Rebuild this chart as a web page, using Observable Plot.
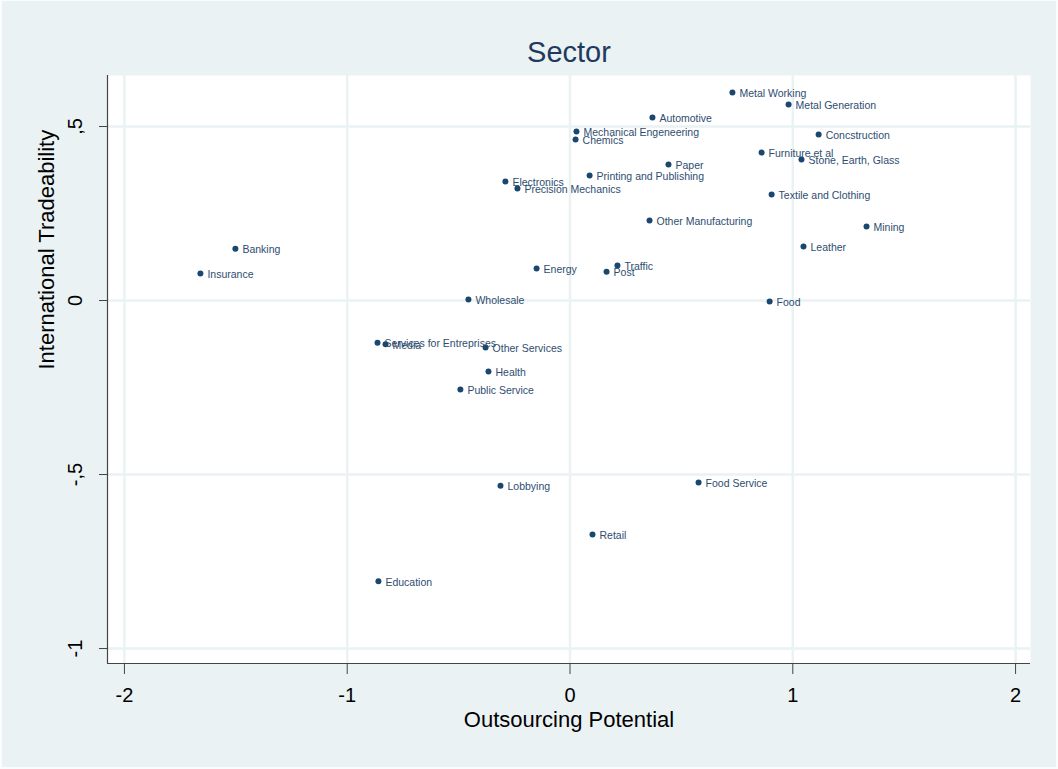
<!DOCTYPE html>
<html>
<head>
<meta charset="utf-8">
<script src="https://cdn.jsdelivr.net/npm/d3@7"></script>
<script src="https://cdn.jsdelivr.net/npm/@observablehq/plot@0.6"></script>
<style>
  html, body { margin: 0; padding: 0; background: #eaf2f3; }
  #chart { position: relative; width: 1058px; height: 769px; }
  #chart svg { display: block; }
  #border { position: absolute; left: 0; top: 0; right: 0; bottom: 0;
    border-style: solid; border-color: #fbfdfd; border-width: 1px 2px 2px 2px;
    pointer-events: none; }
</style>
</head>
<body>
<div id="chart"><div id="border"></div></div>
<script>
const sectors = [
  "Metal Working", "Metal Generation", "Automotive", "Concstruction",
  "Mechanical Engeneering", "Chemics", "Furniture et al", "Stone, Earth, Glass",
  "Paper", "Printing and Publishing", "Electronics", "Precision Mechanics",
  "Textile and Clothing", "Other Manufacturing", "Mining", "Banking",
  "Leather", "Insurance", "Energy", "Traffic", "Post", "Wholesale", "Food",
  "Services for Entreprises", "Media", "Other Services", "Health",
  "Public Service", "Lobbying", "Food Service", "Retail", "Education"
];
const outsourcing = [
  0.729, 0.981, 0.370, 1.116,
  0.029, 0.025, 0.860, 1.039,
  0.442, 0.088, -0.290, -0.236,
  0.905, 0.357, 1.331, -1.502,
  1.048, -1.659, -0.150, 0.213, 0.164, -0.456, 0.896,
  -0.864, -0.828, -0.379, -0.366,
  -0.492, -0.312, 0.577, 0.101, -0.860
];
const tradeability = [
  0.598, 0.563, 0.526, 0.477,
  0.486, 0.463, 0.425, 0.405,
  0.391, 0.359, 0.342, 0.322,
  0.305, 0.230, 0.213, 0.149,
  0.155, 0.078, 0.092, 0.101, 0.083, 0.003, -0.003,
  -0.121, -0.126, -0.135, -0.204,
  -0.256, -0.532, -0.523, -0.672, -0.807
];
const xTicks = [-2, -1, 0, 1, 2];
const yTicks = [-1, -0.5, 0, 0.5];
const yTickLabels = ["-1", "-,5", "0", ",5"];
const xDomain = [-2.076, 2.067];
const yDomain = [-1.043, 0.6466];

const data = sectors.map((s, i) => ({sector: s, x: outsourcing[i], y: tradeability[i]}));
const yTickData = yTicks.map((v, i) => ({v, label: yTickLabels[i]}));

const navy = "#1a476f";
const grid = "#eaf2f3";
const font = "'Liberation Sans', Arial, sans-serif";

const chart = Plot.plot({
  width: 1058,
  height: 769,
  marginLeft: 107,
  marginRight: 28,
  marginTop: 75,
  marginBottom: 106,
  style: {background: "transparent", fontFamily: font, color: "#000"},
  x: {domain: xDomain, ticks: xTicks},
  y: {domain: yDomain, ticks: yTicks},
  marks: [
    Plot.frame({fill: "white", stroke: "none"}),
    Plot.gridX(xTicks, {stroke: grid, strokeOpacity: 1, strokeWidth: 2.5}),
    Plot.gridY(yTicks, {stroke: grid, strokeOpacity: 1, strokeWidth: 2.5}),
    Plot.ruleX([xDomain[0]], {stroke: "#444", strokeWidth: 1.2}),
    Plot.ruleY([yDomain[0]], {stroke: "#444", strokeWidth: 1.2}),
    Plot.axisX(xTicks, {
      tickSize: 11, tickPadding: 13, fontSize: 20, stroke: "#444",
      tickFormat: d => String(d),
      label: null
    }),
    Plot.axisY(yTicks, {
      tickSize: 8, stroke: "#444", tickFormat: null, text: null, label: null
    }),
    Plot.text(yTickData, {
      x: () => xDomain[0], y: "v", text: "label", rotate: -90,
      dx: -32, fontSize: 20, fill: "#000", textAnchor: "middle"
    }),
    Plot.text(["Outsourcing Potential"], {
      frameAnchor: "bottom", dy: 63, fontSize: 22, fill: "#000"
    }),
    Plot.text(["International Tradeability"], {
      frameAnchor: "left", dx: -61, rotate: -90, fontSize: 22, fill: "#000"
    }),
    Plot.text(["Sector"], {
      frameAnchor: "top", dy: -34, fontSize: 29, fill: "#1e3a5f"
    }),
    Plot.dot(data, {x: "x", y: "y", r: 3, fill: navy, stroke: "none"}),
    Plot.text(data, {
      x: "x", y: "y", text: "sector", textAnchor: "start", dx: 7, dy: 1,
      fontSize: 10.5, fill: "#2e4d70"
    })
  ]
});
document.getElementById("chart").appendChild(chart);
</script>
</body>
</html>
